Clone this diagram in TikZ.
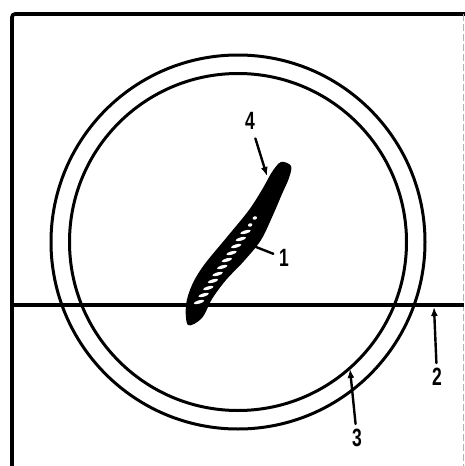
\documentclass[tikz,border=0pt]{standalone}
\usepackage{fontspec}
\setmainfont{Liberation Sans}
\usetikzlibrary{arrows.meta}
\newcommand{\narrowdigit}[1]{\scalebox{0.7}[1]{#1}}
\begin{document}
\begin{tikzpicture}[x=1pt,y=-1pt,
  ink/.style={line width=3pt},
  frameline/.style={line width=3.6pt, rounded corners=3pt},
  lbl/.style={font=\fontsize{25}{25}\selectfont\bfseries, inner sep=0pt},
  leader/.style={line width=2.4pt, line cap=round},
  tip/.style={-{Latex[length=9pt,width=7pt]}}
]
\useasboundingbox (0,0) rectangle (465,466);

% outer frame: left and top edges, faint right edge
\draw[frameline] (12,466) -- (12,14) -- (465,14);
\draw[gray!60, line width=1pt, dash pattern=on 7pt off 3pt] (463,14) -- (463,466);

% horizontal dividing line
\draw[line width=3.8pt] (12,305) -- (464,305);

% double ring
\draw[ink] (238,242) circle (187);
\draw[ink] (238,242) circle (168.5);

% blade
\fill[black] plot[smooth cycle, tension=0.55] coordinates {
  (188,325) (186,305) (192,285) (204,265) (227,237) (249,210)
  (263,188) (272,172) (281,162) (291,166) (289,178) (282,194)
  (273,215) (261,240) (244,261) (226,280) (212,299) (202,318)};
% hatching across the lower part of the blade
\foreach \i in {0,...,12} {
  \pgfmathsetmacro\sx{199+\i*4.65}
  \pgfmathsetmacro\sy{302-\i*7.0}
  \pgfmathsetmacro\rl{\i<11 ? 5.4 : 2.2}
  \fill[white, rotate around={16:(\sx,\sy)}] (\sx,\sy) ellipse ({\rl pt} and 1.7pt);
}

% labels
\node[lbl] (l4) at (250,121) {\narrowdigit{4}};
\node[lbl] (l1) at (284,258) {\narrowdigit{1}};
\node[lbl] (l2) at (437,377) {\narrowdigit{2}};
\node[lbl] (l3) at (357,438) {\narrowdigit{3}};

% leader ends
\coordinate (c4) at (267,176);
\coordinate (c1) at (256,247);
\coordinate (c2) at (434,307);
\coordinate (c3) at (350,369);

% leaders
\draw[leader, tip, shorten <=9pt] (l4) -- (c4);
\draw[leader, shorten >=6pt] (c1) -- (l1);
\draw[leader, tip, shorten <=5pt] (l2) -- (c2);
\draw[leader, tip, shorten <=5pt] (l3) -- (c3);
\end{tikzpicture}
\end{document}
